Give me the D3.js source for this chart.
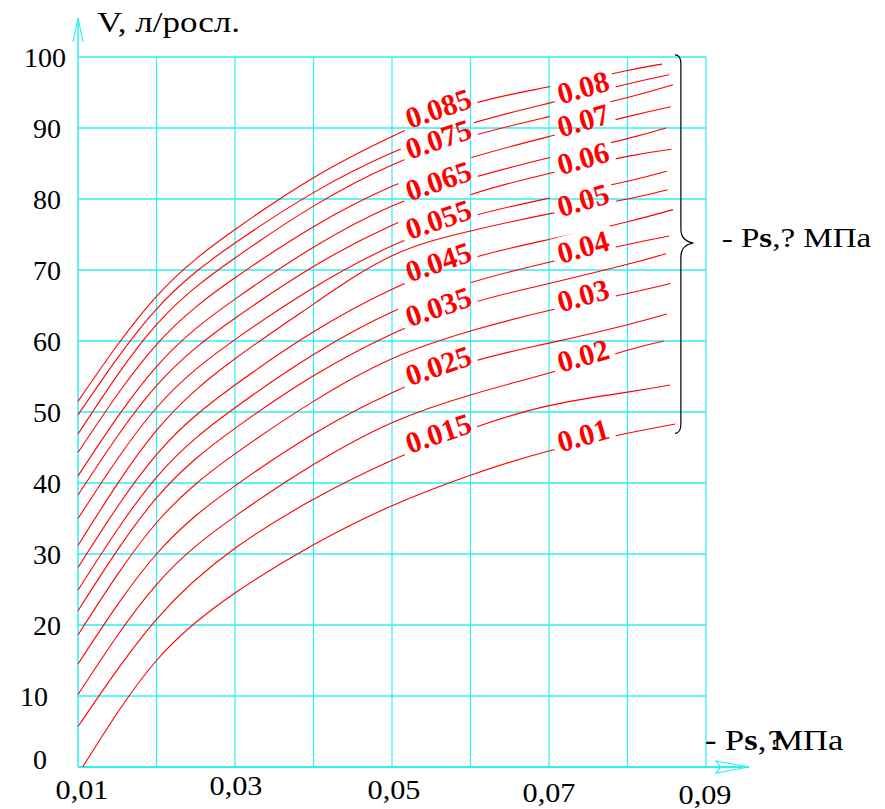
<!DOCTYPE html>
<html>
<head>
<meta charset="utf-8">
<script src="https://cdn.jsdelivr.net/npm/d3@7"></script>
<style>
  html, body { margin: 0; padding: 0; background: #fff; }
  svg { display: block; }
  text { font-family: "Liberation Serif", "Times New Roman", serif; }
</style>
</head>
<body>
<svg id="chart" width="885" height="809"></svg>
<script>
// ---- data -------------------------------------------------------------
// supply pressure P (MPa) at which each curve is tabulated
const pressure = [0.01, 0.02, 0.03, 0.04, 0.05, 0.06, 0.07, 0.08];

// curve parameter Ps (MPa), top curve first
const psLevels = [0.085, 0.08, 0.075, 0.07, 0.065, 0.06, 0.055, 0.05,
                  0.045, 0.04, 0.035, 0.03, 0.025, 0.02, 0.015, 0.01];

// V, l/cycle at each pressure value, one array per Ps level
const v085 = [51.5, 66.3, 75.7, 83.0, 88.8, 93.3, 95.8, 98.1];
const v080 = [49.6, 64.5, 73.8, 80.9, 86.5, 90.6, 93.5, 96.2];
const v075 = [46.9, 62.3, 71.7, 79.0, 84.8, 88.8, 91.6, 94.3];
const v070 = [44.3, 59.5, 68.9, 76.1, 81.8, 85.8, 88.8, 91.6];
const v065 = [41.0, 56.4, 65.9, 73.2, 79.0, 82.9, 85.8, 88.5];
const v060 = [38.3, 53.7, 63.2, 70.5, 76.3, 80.6, 83.6, 86.0];
const v055 = [35.0, 50.6, 60.2, 67.5, 73.4, 77.5, 80.1, 82.5];
const v050 = [31.2, 47.4, 57.5, 65.2, 72.0, 75.5, 77.9, 80.0];
const v045 = [28.1, 44.0, 53.8, 61.3, 67.3, 71.6, 74.3, 76.8];
const v040 = [24.9, 40.8, 50.6, 58.1, 64.1, 68.2, 71.1, 73.6];
const v035 = [22.0, 37.9, 47.7, 55.1, 61.0, 65.3, 68.1, 70.8];
const v030 = [18.6, 34.4, 44.1, 51.5, 57.5, 61.4, 64.3, 66.7];
const v025 = [14.5, 30.0, 39.6, 46.9, 52.7, 57.0, 59.7, 62.3];
const v020 = [10.2, 25.7, 35.3, 42.6, 48.5, 52.4, 55.5, 58.7];
const v015 = [5.7, 20.8, 30.8, 37.7, 43.2, 47.6, 50.9, 52.8];
const v010 = [0.0, 15.0, 24.5, 31.3, 36.8, 41.1, 44.5, 47.0];

// first pressure of each curve (the 0.01 curve starts slightly to the right)
const startP = [0.01, 0.01, 0.01, 0.01, 0.01, 0.01, 0.01, 0.01,
                0.01, 0.01, 0.01, 0.01, 0.01, 0.01, 0.01, 0.0106];
// last point of each curve
const endP = [0.0844, 0.0853, 0.0858, 0.0855, 0.0849, 0.0856, 0.0850, 0.0851,
              0.0858, 0.0853, 0.0849, 0.0855, 0.0850, 0.0846, 0.0854, 0.0861];
const endV = [99.0, 97.5, 96.1, 93.0, 90.0, 87.0, 83.9, 81.3,
              78.5, 74.8, 72.3, 68.1, 63.8, 60.0, 53.8, 48.3];

// axis ticks
const yTicks = [0, 10, 20, 30, 40, 50, 60, 70, 80, 90, 100];
const xTicks = [0.01, 0.03, 0.05, 0.07, 0.09];
const xTickLabels = ["0,01", "0,03", "0,05", "0,07", "0,09"];
const xGrid = [0.01, 0.02, 0.03, 0.04, 0.05, 0.06, 0.07, 0.08, 0.09];

const seriesValues = [v085, v080, v075, v070, v065, v060, v055, v050,
                      v045, v040, v035, v030, v025, v020, v015, v010];

// ---- layout -----------------------------------------------------------
const svg = d3.select("#chart");
const x = d3.scaleLinear().domain([0.01, 0.09]).range([78, 706]);
const y = d3.scaleLinear().domain([0, 100]).range([767, 57]);

const CYAN = "#2ef0f0";
const RED = "#ff0000";

svg.append("rect").attr("width", 885).attr("height", 809).attr("fill", "#fff");

// ---- grid -------------------------------------------------------------
const grid = svg.append("g").attr("fill", "none").attr("stroke", CYAN);
grid.selectAll("line.h").data(yTicks.filter(d => d > 0)).join("line")
  .attr("class", "h")
  .attr("x1", x(0.01)).attr("x2", x(0.09))
  .attr("y1", d => y(d)).attr("y2", d => y(d))
  .attr("stroke-width", 1.7);
grid.selectAll("line.v").data(xGrid.filter(d => d > 0.01)).join("line")
  .attr("class", "v")
  .attr("x1", d => x(d)).attr("x2", d => x(d))
  .attr("y1", y(100)).attr("y2", y(0))
  .attr("stroke-width", 1.2);

// axes with arrows
grid.append("line")
  .attr("x1", x(0.01)).attr("x2", x(0.01))
  .attr("y1", y(0)).attr("y2", 18)
  .attr("stroke-width", 1.5);
grid.append("path")
  .attr("d", `M${x(0.01) - 5},42 L${x(0.01)},18 L${x(0.01) + 5},42`)
  .attr("stroke-width", 1.2);
grid.append("line")
  .attr("x1", x(0.01)).attr("x2", 749)
  .attr("y1", y(0)).attr("y2", y(0))
  .attr("stroke-width", 2.2);
grid.append("path")
  .attr("d", `M716,${y(0) - 6} L749,${y(0)} L716,${y(0) + 6} L721,${y(0)} Z`)
  .attr("stroke-width", 1.2);

// ---- curves -----------------------------------------------------------
const defs = svg.append("defs");
const mask = defs.append("mask")
  .attr("id", "labelGaps")
  .attr("maskUnits", "userSpaceOnUse")
  .attr("x", 0).attr("y", 0).attr("width", 885).attr("height", 809);
mask.append("rect").attr("width", 885).attr("height", 809).attr("fill", "#fff");

const line = d3.line()
  .x(d => x(d[0]))
  .y(d => y(d[1]))
  .curve(d3.curveNatural);

const curves = psLevels.map((ps, i) => {
  const pts = pressure.map((p, j) => [j === 0 ? startP[i] : p, seriesValues[i][j]]);
  pts.push([endP[i], endV[i]]);
  return { ps, pts };
});

const curveLayer = svg.append("g").attr("mask", "url(#labelGaps)");
const paths = curveLayer.selectAll("path").data(curves).join("path")
  .attr("d", d => line(d.pts))
  .attr("fill", "none")
  .attr("stroke", RED)
  .attr("stroke-width", 1.1);

// ---- curve labels -----------------------------------------------------
function pointAtX(node, xt) {
  let lo = 0, hi = node.getTotalLength();
  for (let k = 0; k < 40; k++) {
    const mid = (lo + hi) / 2;
    if (node.getPointAtLength(mid).x < xt) lo = mid; else hi = mid;
  }
  return node.getPointAtLength((lo + hi) / 2);
}

const labelLayer = svg.append("g");
paths.each(function (d, i) {
  const odd = i % 2 === 0;             // 0.085, 0.075, ... sit further left
  const px = x(odd ? 0.0562 : 0.0746);
  const pt = pointAtX(this, px);
  const angle = odd ? -19 : -16;
  const tr = `translate(${pt.x},${pt.y}) rotate(${angle})`;
  const g = labelLayer.append("g").attr("transform", tr);
  const t = g.append("text")
    .attr("text-anchor", "middle")
    .attr("dy", 3)
    .attr("font-size", 30)
    .attr("font-weight", "bold")
    .attr("fill", RED)
    .text(String(d.ps));
  const bb = t.node().getBBox();
  mask.append("rect")
    .attr("transform", tr)
    .attr("x", bb.x - 5).attr("y", bb.y + 1)
    .attr("width", bb.width + 10).attr("height", bb.height - 2)
    .attr("fill", "#000");
});

// ---- tick labels ------------------------------------------------------
const yLabelRight = v => v === 100 ? 66 : (v === 10 ? 48 : (v === 0 ? 47 : 61));
const yLabelShift = v => v === 0 ? -8 : 0;
svg.append("g").selectAll("text").data(yTicks).join("text")
  .attr("x", d => yLabelRight(d))
  .attr("y", d => y(d) + yLabelShift(d))
  .attr("dy", "0.35em")
  .attr("text-anchor", "end")
  .attr("font-size", 28)
  .attr("fill", "#000")
  .text(d => d);

const xBaseline = [799, 794.5, 799, 801.5, 804];
const xShift = [4, 1, 2, 0, -1];
svg.append("g").selectAll("text").data(xTicks).join("text")
  .attr("transform", (d, i) => `translate(${x(d) + xShift[i]},${xBaseline[i]}) scale(1.08,1)`)
  .attr("text-anchor", "middle")
  .attr("font-size", 28)
  .attr("fill", "#000")
  .text((d, i) => xTickLabels[i]);

// ---- axis titles ------------------------------------------------------
svg.append("text")
  .attr("x", 97).attr("y", 32)
  .attr("font-size", 30)
  .attr("textLength", 143)
  .attr("lengthAdjust", "spacingAndGlyphs")
  .attr("fill", "#000")
  .text("V, л/росл.");

// Ps, MPa caption: widened serif, "s" in bold
function psTitle(xp, yp, size, sx, qDx, unitDx) {
  const t = svg.append("text")
    .attr("transform", `translate(${xp},${yp}) scale(${sx},1)`)
    .attr("font-size", size).attr("fill", "#000");
  t.append("tspan").text("- P");
  t.append("tspan").attr("font-weight", "bold").text("s");
  t.append("tspan").text(",");
  t.append("tspan").attr("dx", qDx).text("?");
  t.append("tspan").attr("dx", unitDx).text("МПа");
}
psTitle(721.7, 247, 28, 1.18, 0, 7);
psTitle(705, 750, 30, 1.15, 1, -9);

// ---- brace grouping the curve family ---------------------------------
const bx = x(0.0868), bTop = y(100.3), bBot = y(47.0), bMid = y(73.8);
const tipX = x(0.0884);
svg.append("path")
  .attr("d", `M${bx - 6},${bTop} Q${bx},${bTop} ${bx},${bTop + 9}
              L${bx},${bMid - 14} Q${bx},${bMid - 2} ${tipX},${bMid}
              Q${bx},${bMid + 2} ${bx},${bMid + 14}
              L${bx},${bBot - 9} Q${bx},${bBot} ${bx - 6},${bBot}`)
  .attr("fill", "none")
  .attr("stroke", "#000")
  .attr("stroke-width", 1.2);
</script>
</body>
</html>
